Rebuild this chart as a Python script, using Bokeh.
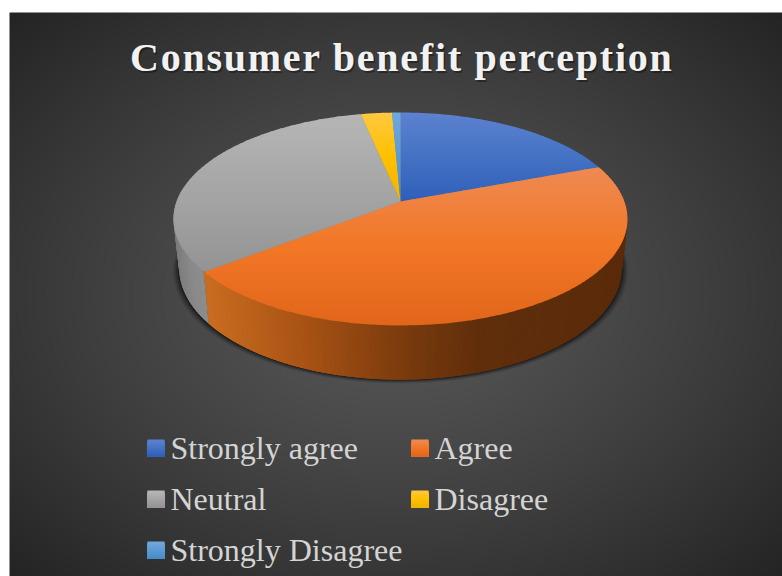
import math
import numpy as np
from bokeh.core.properties import value
from bokeh.embed import file_html
from bokeh.layouts import column
from bokeh.models import InlineStyleSheet, Range1d
from bokeh.plotting import figure
from bokeh.resources import INLINE

# Survey shares, in percent, clockwise from twelve o'clock
categories = ["Strongly agree", "Agree", "Neutral", "Disagree", "Strongly Disagree"]
shares = [19.3, 45.2, 32.2, 2.6, 0.7]
title_text = "Consumer benefit perception"

# Face shading per slice: light, full, deep
face_stops = {
    "Strongly agree": ["#5c82d0", "#4472c4", "#2f5fb9"],
    "Agree": ["#ee8a52", "#f27727", "#e2661a"],
    "Neutral": ["#b6b6b6", "#a5a5a5", "#939393"],
    "Disagree": ["#ffc942", "#ffc000", "#efb400"],
    "Strongly Disagree": ["#70a8dd", "#5b9bd5", "#4a8cc8"],
}
# Wall shading as (screen x, colour)
wall_stops = {
    "Agree": [(205, "#c86c20"), (300, "#a85214"), (400, "#7a3b0d"), (475, "#602e0b"), (630, "#5a2b0a")],
    "Neutral": [(172, "#7c7c7c"), (190, "#8a8a8a"), (208, "#8e8e8e")],
}

W, H = 782, 576
TITLE_H = 95         # height of the transparent title layer
FRAME_X, FRAME_Y = 9, 12

# Perspective disc parameters
CX, CY = 400.0, 201.0
A, B, TILT = 223.9, 103.6, 0.1643
BOTTOM_CY, BOTTOM_SX, BOTTOM_SY = 249.0, 0.975, 1.05


def Y(y):
    return H - np.asarray(y, dtype=float)


def hex_rgb(c):
    return np.array([int(c[i:i + 2], 16) for i in (1, 3, 5)], dtype=float)


def rgb_hex(v):
    return "#%02x%02x%02x" % tuple(int(round(float(x))) for x in v)


def blend(stops, t):
    t = min(max(t, 0.0), 1.0) * (len(stops) - 1)
    i = min(int(t), len(stops) - 2)
    return rgb_hex(hex_rgb(stops[i]) * (1 - (t - i)) + hex_rgb(stops[i + 1]) * (t - i))


def blend_x(stops, x):
    xs = [s[0] for s in stops]
    rgb = np.array([hex_rgb(s[1]) for s in stops])
    return rgb_hex([np.interp(x, xs, rgb[:, k]) for k in range(3)])


def top_point(theta):
    px, py = math.sin(theta), math.cos(theta)
    d = 1 + TILT * py
    return CX + A * px / d, CY - B * py / d


def bottom_point(theta):
    px, py = math.sin(theta), math.cos(theta)
    d = 1 + TILT * py
    return CX + BOTTOM_SX * A * px / d, BOTTOM_CY - BOTTOM_SY * B * py / d


def clip_band(poly, y0, y1):
    def clip(pts, keep, cross):
        out = []
        for i, p in enumerate(pts):
            q = pts[(i + 1) % len(pts)]
            if keep(p):
                out.append(p)
            if keep(p) != keep(q):
                out.append(cross(p, q))
        return out

    def at(level):
        return lambda p, q: (p[0] + (q[0] - p[0]) * (level - p[1]) / (q[1] - p[1]), level)

    pts = clip(poly, lambda p: p[1] >= y0, at(y0))
    return clip(pts, lambda p: p[1] <= y1, at(y1)) if pts else pts


def make_figure(y_start, y_end, height, **kw):
    return figure(width=W, height=height, x_range=Range1d(0, W),
                  y_range=Range1d(float(H - y_end), float(H - y_start)),
                  output_backend="svg", toolbar_location=None, min_border=0,
                  outline_line_color=None, x_axis_type=None, y_axis_type=None, **kw)


def backdrop(p, y_start, y_end):
    # Dark radial backdrop with a white margin on the top and left
    ys, xs = np.mgrid[y_end - 1:y_start - 1:-1, 0:W]
    ys, xs = ys + 0.5, xs + 0.5
    r = np.hypot((xs - 396) / 386.0, (ys - 294) / 282.0) / math.sqrt(2)
    level = 88 - 52 * np.clip(r, 0, 1) ** 1.25
    img = np.zeros(xs.shape, dtype=np.uint32)
    view = img.view(dtype=np.uint8).reshape((*xs.shape, 4))
    view[..., 0] = view[..., 1] = view[..., 2] = level.astype(np.uint8)
    view[..., 3] = 255
    view[(xs < FRAME_X) | (ys < FRAME_Y)] = 255
    p.image_rgba(image=[img], x=0, y=float(H - y_end), dw=W, dh=y_end - y_start)


# Pie and legend
p = make_figure(0, H, H, background_fill_color="white", border_fill_color="white")
backdrop(p, 0, H)

# Soft contact shadow around the base
ring = np.radians(np.arange(0, 360, 2))
for grow, alpha in [(6, 0.10), (4.5, 0.14), (3, 0.2), (1.5, 0.3)]:
    pts = [bottom_point(t) for t in ring]
    sx = [CX + (x - CX) * (1 + grow / 221.0) for x, _ in pts]
    sy = [y + grow * 0.6 for _, y in pts]
    p.patch(sx, Y(sy), fill_color="#000000", fill_alpha=alpha, line_color=None)

# Walls, painted strip by strip
edges = np.cumsum([0.0] + shares) / sum(shares) * 2 * math.pi
wall_x, wall_y, wall_c = [], [], []
for name, start, end in zip(categories, edges[:-1], edges[1:]):
    if name not in wall_stops:
        continue
    thetas = np.arange(start, end, math.radians(1.0))
    for t0 in thetas:
        if math.cos(t0) > 0.1:
            continue
        t1 = min(t0 + math.radians(2.5), end)
        a, b = top_point(t0), top_point(t1)
        c, d = bottom_point(t1), bottom_point(t0)
        wall_x.append([a[0], b[0], c[0], d[0]])
        wall_y.append(list(Y([a[1], b[1], c[1], d[1]])))
        wall_c.append(blend_x(wall_stops[name], (a[0] + b[0]) / 2))
p.patches(wall_x, wall_y, fill_color=wall_c, line_color=None)

# Underlay so hairlines between slices do not show the backdrop
under = [top_point(t) for t in ring]
p.patch([CX + (x - CX) * 0.995 for x, _ in under], Y([CY + (y - CY) * 0.995 for _, y in under]),
        fill_color="#8a7a6a", line_color=None)

# Slice faces, shaded in horizontal bands
for name, start, end in zip(categories, edges[:-1], edges[1:]):
    steps = max(int(math.degrees(end - start) * 1.5), 3)
    poly = [(CX, CY)] + [top_point(t) for t in np.linspace(start, end, steps)]
    ymin, ymax = min(q[1] for q in poly), max(q[1] for q in poly)
    band_x, band_y, band_c = [], [], []
    level = ymin
    while level < ymax:
        part = clip_band(poly, level - (0.6 if level > ymin else 0), level + 3)
        if len(part) >= 3:
            band_x.append([q[0] for q in part])
            band_y.append(list(Y([q[1] for q in part])))
            band_c.append(blend(face_stops[name], (level + 1.5 - ymin) / (ymax - ymin)))
        level += 3
    p.patches(band_x, band_y, fill_color=band_c, line_color=None)

# Legend: swatches and labels
legend_x = [147, 411, 147, 411, 147]
legend_y = [439, 439, 490, 490, 541]
SWATCH = 17
for name, lx, ly in zip(categories, legend_x, legend_y):
    rows = np.arange(SWATCH)
    # Each row reaches the swatch foot, so later rows paint over any seam
    p.quad(left=lx, right=lx + SWATCH, top=Y(ly + rows), bottom=Y(ly + SWATCH),
           fill_color=[blend(face_stops[name], r / (SWATCH - 1)) for r in rows], line_color=None)
p.text(x=[lx + 23 for lx in legend_x], y=Y([ly + 8 for ly in legend_y]), text=categories,
       text_font=value("Liberation Serif"), text_font_size=value("32px"), text_color="#d4d4d4",
       text_align="left", text_baseline="alphabetic")

# Title: a transparent layer over the top of the chart, so the tracking applies only here
tracking = InlineStyleSheet(css=":host { letter-spacing: 1.75px; }")
head = make_figure(0, TITLE_H, TITLE_H, stylesheets=[tracking], margin=(-H, 0, 0, 0),
                   background_fill_alpha=0, border_fill_alpha=0)
title_common = dict(text=[title_text], text_font=value("Liberation Serif"), text_font_style="bold",
                    text_font_size=value("40px"), text_align="center", text_baseline="alphabetic")
head.text(x=[379.5], y=Y([58.5]), text_color="#000000", text_alpha=0.35, **title_common)
head.text(x=[378], y=Y([57]), text_color="#f2f2f2", **title_common)

page = column(p, head, spacing=0)
open("out.html", "w").write(file_html(page, INLINE))
